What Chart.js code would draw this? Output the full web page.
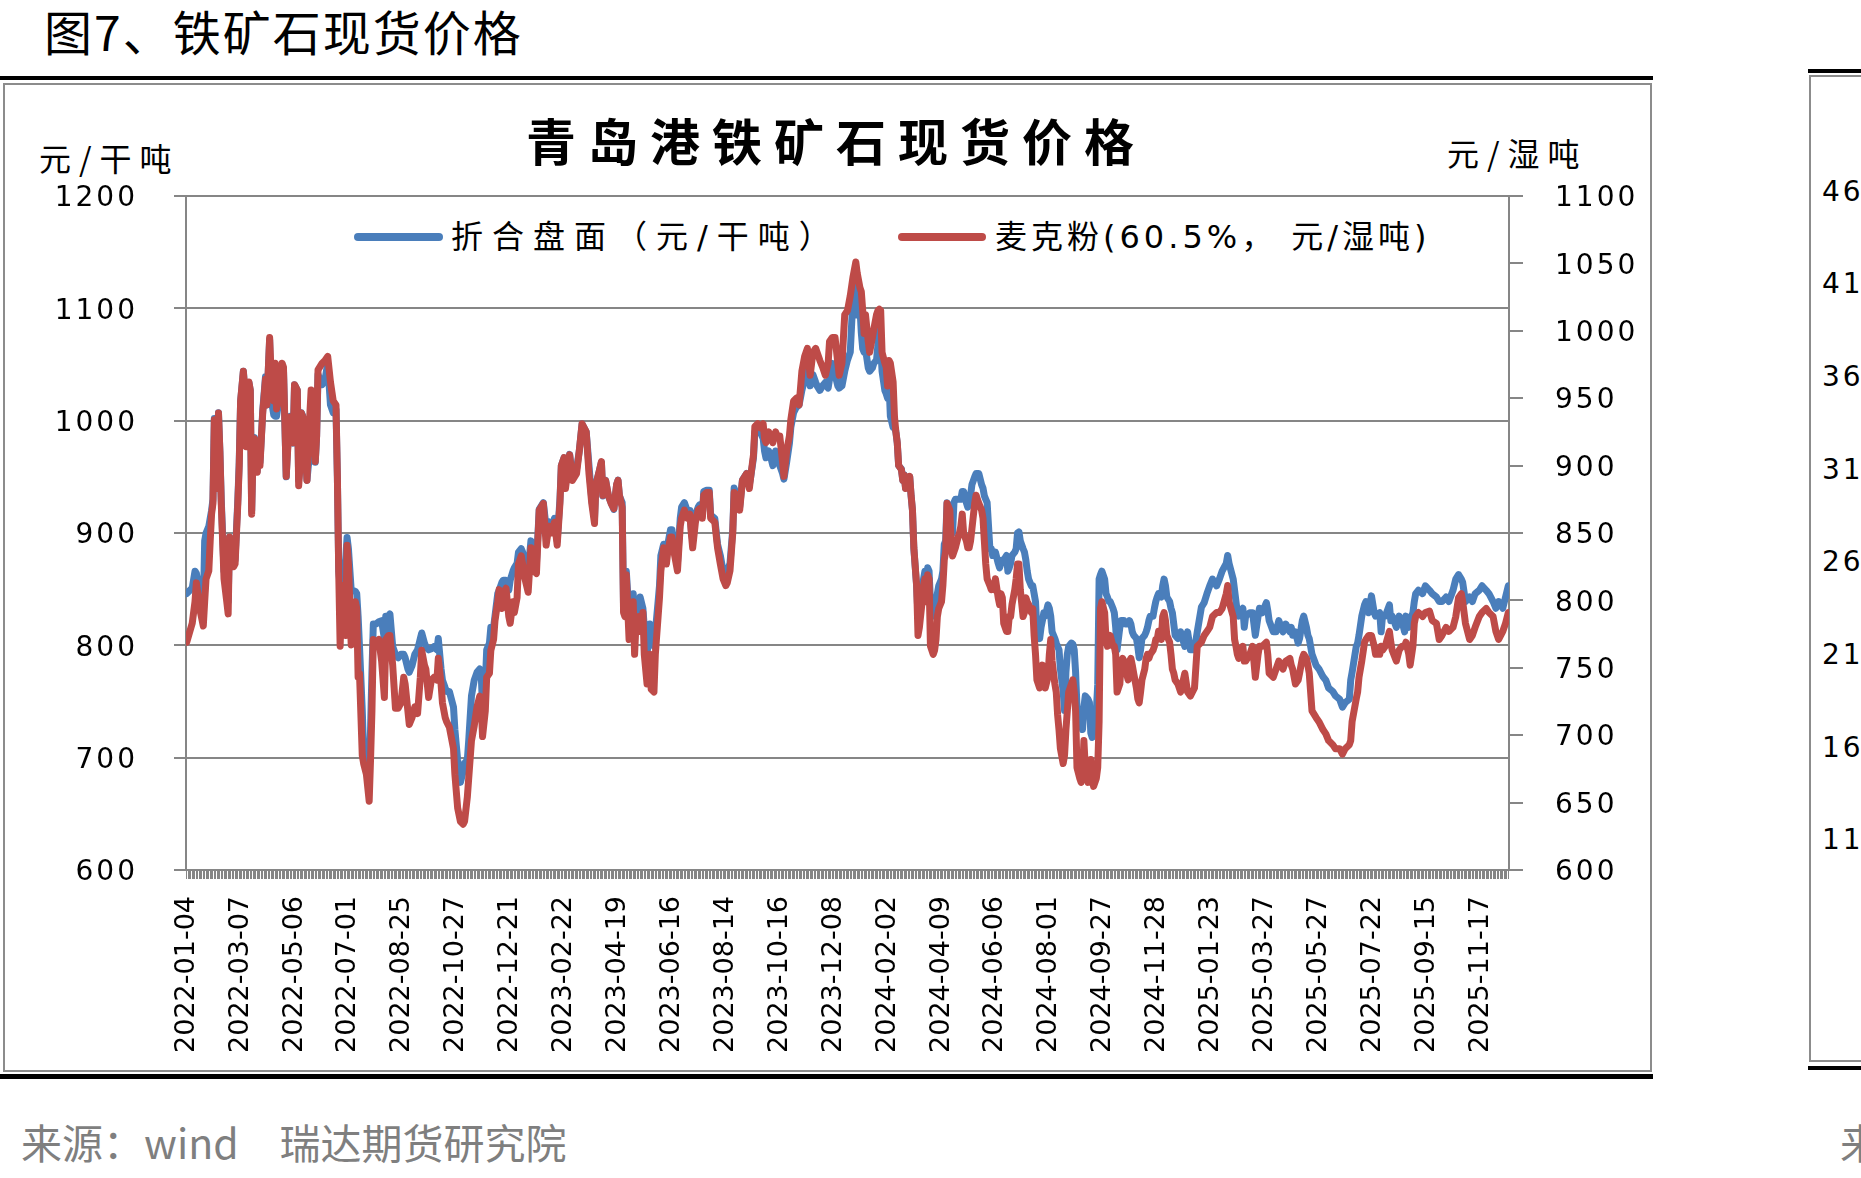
<!DOCTYPE html>
<html><head><meta charset="utf-8">
<script src="https://cdn.jsdelivr.net/npm/chart.js@4.4.1/dist/chart.umd.min.js"></script>
<style>
html,body{margin:0;padding:0;background:#fff;width:1861px;height:1178px;overflow:hidden;position:relative;}
.abs{position:absolute;white-space:nowrap;line-height:1;}
.cjk{font-family:"Noto Sans CJK SC","Noto Sans",sans-serif;}
.num{font-family:"DejaVu Sans",sans-serif;}
</style></head><body>
<!-- main frame -->
<div class="abs" style="left:0;top:76px;width:1653px;height:4px;background:#000"></div>
<div class="abs" style="left:3px;top:83px;width:1649px;height:989px;border:2px solid #8c8c8c;box-sizing:border-box"></div>
<div class="abs" style="left:0;top:1074px;width:1653px;height:5px;background:#000"></div>
<!-- neighbour chart fragment -->
<div class="abs" style="left:1808px;top:69px;width:60px;height:4px;background:#000"></div>
<div class="abs" style="left:1809px;top:75px;width:80px;height:987px;border:2px solid #8c8c8c;box-sizing:border-box"></div>
<div class="abs" style="left:1808px;top:1066px;width:60px;height:4px;background:#000"></div>
<div id="nb"></div>

<div class="abs cjk" style="left:44px;top:6px;font-size:48px;letter-spacing:2px;color:#000">图7、铁矿石现货价格</div>
<div class="abs cjk" style="left:526px;top:114px;font-size:50px;font-weight:700;letter-spacing:12px;color:#000">青岛港铁矿石现货价格</div>
<div class="abs cjk" style="left:39px;top:141px;font-size:32px;letter-spacing:8px;color:#000">元/干吨</div>
<div class="abs cjk" style="left:1447px;top:136px;font-size:32px;letter-spacing:8px;color:#000">元/湿吨</div>

<div class="abs" style="left:354px;top:233px;width:89px;height:8px;border-radius:4px;background:#4A7EBB"></div>
<div class="abs" style="left:451px;top:221px;font-size:32px;letter-spacing:9px;color:#000;font-family:'DejaVu Sans','Noto Sans CJK SC',sans-serif">折合盘面（元/干吨）</div>
<div class="abs" style="left:898px;top:233px;width:88px;height:8px;border-radius:4px;background:#BE4B48"></div>
<div class="abs" style="left:995px;top:221px;font-size:32px;letter-spacing:4px;color:#000;font-family:'DejaVu Sans','Noto Sans CJK SC',sans-serif">麦克粉(60.5%， 元/湿吨)</div>

<div class="abs cjk" style="left:21px;top:1121px;font-size:41px;color:#7f7f7f">来源：wind　瑞达期货研究院</div>
<div class="abs cjk" style="left:1840px;top:1121px;font-size:41px;color:#7f7f7f">来源：wind</div>

<canvas id="c" width="1861" height="1178" style="position:absolute;left:0;top:0"></canvas>
<script>
// ---- tick labels ----
const dateLabels = ['2022-01-04','2022-03-07','2022-05-06','2022-07-01','2022-08-25','2022-10-27','2022-12-21','2023-02-22','2023-04-19','2023-06-16','2023-08-14','2023-10-16','2023-12-08','2024-02-02','2024-04-09','2024-06-06','2024-08-01','2024-09-27','2024-11-28','2025-01-23','2025-03-27','2025-05-27','2025-07-22','2025-09-15','2025-11-17'];
const labelStep = 39;      // trading days between labelled dates
const dayCount = 957;      // trading days on the category axis
const neighbourTicks = ['4600','4100','3600','3100','2600','2100','1600','1100'];

// ---- series readings (trading-day index, value) ----
const dayIndex = [
0,4,6,7,10,12,13,14,16,17, 18,19,20,22,23,24,25,27,29,30, 31,34,35,37,38,39,41,42,43,45,
46,47,48,49,51,52,53,54,55,57, 58,59,60,61,63,64,65,67,69,70, 72,73,75,77,78,80,81,82,83,84,
86,87,88,90,91,93,94,95,98,100, 102,104,106,108,109,110,111,112,113,115, 116,117,119,120,122,123,124,125,127,128,
130,132,133,134,135,137,139,141,143,144, 146,147,149,151,153,155,157,158,160,161, 163,165,167,169,170,172,173,175,177,179,
181,182,184,185,187,188,190,193,194,196, 198,200,201,203,204,206,208,210,212,213, 214,216,217,219,220,222,223,225,226,228,
229,231,233,234,236,237,239,240,242,
243,244,247,249,251,253,255,258,260,262, 264,266,268,270,271,273,274,277,279,282, 284,286,289,291,293,295,296,298,300,301,
303,305,307,309,311,312,313,315,316,317, 318,320,321,323,324,325,327,328,330,331, 333,335,336,338,339,341,342,343,345,347,
348,350,351,353,355,357,358,360,362,364, 365,366,368,370,371,373,374,376,378,379, 382,384,386,388,390,391,393,395,396,398,
400,402,405,407,408,410,411,413,415,417, 418,419,421,422,424,426,427,429,431,432, 434,436,437,439,441,443,445,447,449,451,
453,455,456,458,460,462,464,465,467,469, 471,472,474,476,478,480,
482,484,485,487,488,489,490,491,493,494, 496,497,499,500,501,502,503,505,506,507, 508,509,511,512,513,514,515,517,518,519,
520,522,523,524,525,526,528,529,530,532, 533,534,535,536,537,538,540,541,542,543, 544,546,547,548,549,550,552,553,554,555,
556,558,559,560,561,562,564,565,566,567, 568,570,571,572,573,575,576,577,578,579, 581,582,583,584,585,587,588,589,590,591,
593,594,595,596,597,599,600,601,602,603, 605,606,607,608,609,611,612,613,614,615, 617,618,619,620,621,623,624,625,626,628,
629,630,631,632,634,635,636,637,638,640, 641,642,643,644,646,647,648,649,650,652, 653,654,655,656,658,659,660,661,662,664,
665,666,667,668,670,671,672,673,675,676, 677,678,679,681,682,683,684,685,687,688, 689,690,691,693,694,695,696,697,699,700,
701,702,703,705,706,707,708,709,711,712, 713,714,715,717,
719,722,724,726,729,731,734,736,738,740, 742,745,747,749,752,753,754,757,758,759, 760,761,764,765,766,769,771,773,775,776,
778,781,782,783,786,788,790,793,795,798, 799,800,802,804,805,807,808,810,811,812, 813,814,817,819,822,824,826,829,831,834,
836,838,841,842,843,846,847,848,850,852, 853,855,857,859,860,863,864,865,867,870, 871,872,875,877,879,881,882,884,885,887,
888,889,891,894,896,899,901,904,906,908, 911,913,916,918,920,922,923,925,928,930, 932,935,937,940,942,945,947,949,952,954,
956];

// 折合盘面（元/干吨） — left axis
const panelPrice = [
846,851,866,864,843,829,893,900,906,913, 920,930,1002,947,1007,973,930,866,859,839, 896,876,876,930,963,1017,1044,1027,980,1034,
1027,920,977,985,955,982,963,985,1009,1039, 1014,1044,1072,1020,1005,1004,1004,1020,1049,1046, 950,977,1004,980,1032,1027,947,960,1007,1004,
973,947,960,973,1000,963,987,1041,1032,1036, 1051,1014,1007,1010,950,866,853,856,866,876, 896,886,849,849,848,846,826,799,742,705,
698,692,725,776,819,819,821,822,806,826, 826,828,799,792,789,792,792,789,779,776, 782,792,796,806,811,802,799,796,797,799,
796,806,779,769,762,759,759,745,725,698, 678,688,695,698,715,755,769,776,779,776, 745,765,796,802,816,816,826,846,849,856,
858,858,849,858,866,869,873,883,886,
883,878,866,893,873,873,921,927,905,910, 903,913,893,930,960,967,943,970,950,957, 973,997,990,960,930,913,943,953,963,933,
947,933,927,921,943,947,933,927,833,829, 866,826,826,846,809,829,833,843,833,816, 792,819,806,799,812,839,853,880,890,883,
890,903,903,883,873,913,923,927,920,920, 903,893,916,923,925,916,937,938,938,916, 913,890,880,866,859,866,873,903,940,933,
923,947,953,943,950,967,990,994,990,984, 973,967,973,970,960,973,967,960,953,948, 963,980,994,1007,1012,1014,1027,1037,1047,1031,
1041,1034,1031,1027,1031,1034,1029,1037,1051,1041, 1031,1029,1031,1044,1054,1061,
1111,1121,1094,1101,1078,1064,1061,1064,1047,1044, 1047,1051,1054,1067,1084,1067,1044,1027,1024,1020, 1034,1004,994,994,990,980,960,957,947,952,
940,947,950,933,920,886,853,826,826,846, 859,866,859,869,866,839,826,829,839,846, 853,859,866,890,893,927,920,913,900,927,
930,930,930,930,937,937,927,923,930,933, 943,950,953,953,953,943,940,933,930,927, 886,886,880,883,883,873,869,873,876,876,
880,866,869,873,880,883,886,900,901,893, 886,883,876,866,859,853,853,846,839,812, 806,816,822,829,826,836,833,826,812,806,
802,799,796,779,759,742,776,792,799,802, 801,796,776,745,729,732,725,745,755,752, 749,722,718,729,742,765,859,863,866,859,
846,843,839,839,833,829,816,796,816,822, 822,822,819,819,822,819,812,809,806,799, 789,796,806,809,812,816,822,826,826,833,
839,843,846,843,853,859,853,843,839,833, 829,819,809,806,
812,799,812,796,796,812,834,838,846,853, 859,853,859,866,873,880,873,859,849,839, 829,826,833,816,826,829,829,809,826,833,
829,838,831,822,812,812,822,812,819,812, 816,809,812,802,806,822,826,816,809,806, 799,792,782,779,772,769,762,759,755,752,
745,749,752,769,776,799,802,809,826,836, 839,829,844,829,826,829,812,826,826,836, 822,826,816,826,822,812,826,816,822,829,
839,846,849,846,853,849,846,843,839,839, 843,839,849,859,863,859,856,839,843,839, 846,849,853,849,846,839,833,839,833,843,
853];

// 麦克粉(60.5%，元/湿吨) — right axis
const macPrice = [
769,783,799,813,791,781,799,816,822,844, 864,872,934,883,939,911,872,816,799,790, 847,825,827,872,900,948,970,956,914,962,
956,864,911,920,895,917,900,920,939,964, 945,970,995,970,948,976,942,950,976,973, 892,911,936,917,960,956,885,900,939,936,
911,889,917,956,934,903,922,971,976,978, 981,962,948,945,892,819,766,799,811,774, 841,827,767,788,799,794,743,746,685,679,
671,651,682,718,771,769,771,755,728,771, 774,774,752,720,720,724,743,738,718,708, 713,721,716,743,763,752,749,728,741,743,
741,757,738,724,713,710,706,690,671,646, 636,634,636,654,668,696,707,721,729,724, 699,718,743,746,763,771,785,799,808,794,
805,809,788,783,799,791,802,827,833,
827,819,806,839,822,820,867,872,841,855, 850,858,841,872,900,906,883,908,889,894, 911,931,925,894,872,857,886,894,903,878,
889,878,872,868,886,889,878,869,791,788, 819,771,774,799,760,783,788,777,791,760, 738,760,734,732,760,788,802,822,839,827,
836,847,847,833,822,855,861,867,861,864, 850,839,858,867,868,861,878,880,880,861, 858,839,827,816,811,813,822,850,880,878,
867,889,894,883,892,908,929,931,928,931, 920,917,925,922,917,925,922,922,903,892, 911,922,934,948,950,945,970,981,987,967,
984,987,984,978,973,967,976,992,995,995, 976,967,976,1012,1015,1026,
1040,1051,1043,1032,1029,1015,998,1012,992,984, 995,1001,1012,1015,1016,1015,984,976,973,959, 978,976,962,936,925,917,900,897,889,893,
883,889,892,878,867,839,811,774,780,799, 811,816,799,819,816,766,760,763,771,788, 794,799,811,830,836,872,867,844,833,836,
839,847,850,855,864,850,844,839,839,844, 853,872,878,875,872,867,861,844,827,816, 811,808,811,808,816,802,797,805,802,783,
777,777,788,788,797,808,816,827,827,808, 788,791,802,799,797,791,794,774,760,741, 735,743,752,738,735,743,760,771,755,738,
732,715,704,690,679,685,704,718,732,738, 741,732,718,676,668,665,671,696,676,665, 671,682,668,662,668,676,710,794,799,791,
771,766,771,774,766,766,760,732,738,755, 757,755,749,741,755,757,752,746,735,727, 724,732,741,749,757,760,757,760,763,766,
771,771,777,771,788,791,785,774,769,760, 749,746,741,738,
732,746,732,729,735,766,769,774,777,780, 788,791,791,794,805,811,799,788,771,766, 760,757,766,755,755,760,766,743,760,766,
766,769,760,746,743,749,755,749,755,757, 752,749,738,741,746,757,760,757,752,746, 732,718,713,710,704,701,696,693,690,690,
686,690,693,696,710,727,732,743,755,769, 771,774,774,766,760,760,766,763,766,777, 769,763,755,763,766,766,769,760,752,766,
783,788,791,788,791,792,785,783,771,774, 780,777,780,788,802,805,799,783,771,774, 780,788,791,794,791,788,777,771,777,783,
791];

// neighbour fragment tick labels
const nb = document.getElementById('nb');
neighbourTicks.forEach((t, k) => {
  const d = document.createElement('div');
  d.className = 'abs num';
  d.style.cssText = 'left:1822px;top:' + (177.5 + k * 92.7) + 'px;font-size:28px;letter-spacing:3px;color:#000';
  d.textContent = t;
  nb.appendChild(d);
});

const toPoints = vals => dayIndex.map((d, k) => ({ x: d, y: vals[k] }));

// value-axis labels: letter-spaced and nudged to sit centred on their tick
const spacedTicks = {
  id: 'spacedTicks',
  beforeDraw(chart) {
    ['y', 'y2'].forEach(id => {
      const s = chart.scales[id];
      if (s && !s.__ls) {
        const orig = s.drawLabels.bind(s);
        s.drawLabels = function (area) {
          const ctx = this.ctx; ctx.save();
          ctx.letterSpacing = '3px';
          ctx.translate(0, 3);
          orig(area); ctx.restore();
        };
        s.__ls = true;
      }
    });
  }
};

const GRAY = '#868686';
const plain = v => String(v);
new Chart(document.getElementById('c'), {
  type: 'line',
  data: {
    datasets: [
      { label: '折合盘面（元/干吨）', data: toPoints(panelPrice), yAxisID: 'y',
        borderColor: '#4A7EBB', backgroundColor: '#4A7EBB', borderWidth: 7,
        pointRadius: 0, tension: 0, borderJoinStyle: 'round', borderCapStyle: 'round', order: 2 },
      { label: '麦克粉(60.5%， 元/湿吨)', data: toPoints(macPrice), yAxisID: 'y2',
        borderColor: '#BE4B48', backgroundColor: '#BE4B48', borderWidth: 7,
        pointRadius: 0, tension: 0, borderJoinStyle: 'round', borderCapStyle: 'round', order: 1 }
    ]
  },
  options: {
    responsive: false, animation: false, devicePixelRatio: 1,
    layout: { padding: { left: 0, right: 0, top: 196, bottom: 0 } },
    plugins: { legend: { display: false }, tooltip: { enabled: false }, title: { display: false } },
    scales: {
      x: {
        type: 'linear', min: -0.5, max: dayCount - 0.5,
        afterBuildTicks: s => { s.ticks = Array.from({ length: dayCount }, (_, i) => ({ value: i })); },
        afterFit: s => { s.height = 308; },
        grid: { display: true, drawOnChartArea: false, drawTicks: true, tickLength: 9, color: GRAY, lineWidth: 1 },
        border: { display: true, color: GRAY, width: 2 },
        ticks: {
          autoSkip: false, maxRotation: 90, minRotation: 90, padding: 17, color: '#000',
          font: { family: 'DejaVu Sans', size: 27 },
          callback: v => (v % labelStep === 0 && v / labelStep < dateLabels.length) ? dateLabels[v / labelStep] : ''
        }
      },
      y: {
        position: 'left', min: 600, max: 1200,
        afterFit: s => { s.width = 186; },
        ticks: { stepSize: 100, padding: 36, color: '#000', font: { family: 'DejaVu Sans', size: 28 }, callback: plain },
        grid: { color: GRAY, lineWidth: 2, tickLength: 12, drawTicks: true },
        border: { display: true, color: GRAY, width: 2 }
      },
      y2: {
        position: 'right', min: 600, max: 1100,
        afterFit: s => { s.width = 352; },
        ticks: { stepSize: 50, padding: 32, color: '#000', font: { family: 'DejaVu Sans', size: 28 }, callback: plain },
        grid: { drawOnChartArea: false, color: GRAY, lineWidth: 2, tickLength: 14, drawTicks: true },
        border: { display: true, color: GRAY, width: 2 }
      }
    }
  },
  plugins: [spacedTicks]
});
</script>
</body></html>
